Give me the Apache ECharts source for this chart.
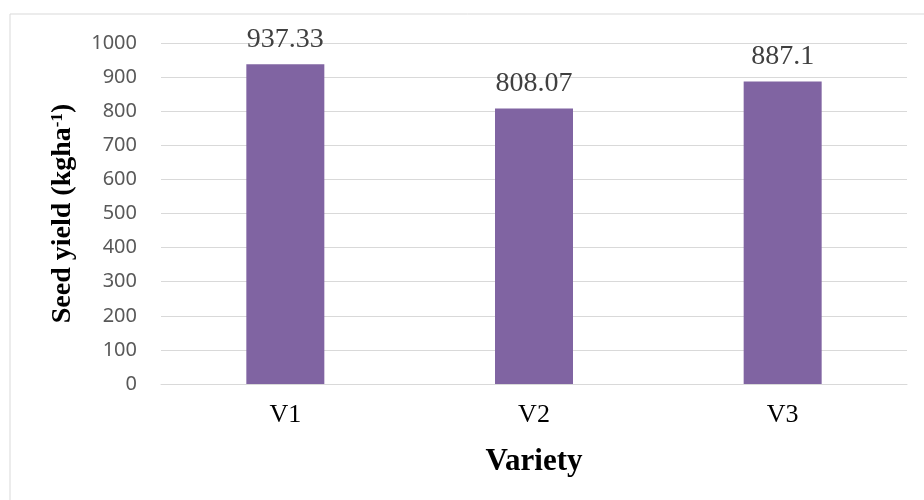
<!DOCTYPE html>
<html>
<head>
<meta charset="utf-8">
<script src="https://cdn.jsdelivr.net/npm/echarts@6/dist/echarts.min.js"></script>
<style>
  html, body { margin: 0; padding: 0; background: #fff; }
  #chart { width: 924px; height: 500px; }
</style>
</head>
<body>
<div id="chart"></div>
<script>
var varieties = ['V1', 'V2', 'V3'];
var seedYield = [937.33, 808.07, 887.1];
var yMin = 0;
var yMax = 1000;
var yStep = 100;

var chart = echarts.init(document.getElementById('chart'));

var option = {
  animation: false,
  backgroundColor: '#fff',
  graphic: [{
    type: 'rect',
    shape: { x: 10, y: 14, width: 940, height: 520 },
    style: { fill: 'none', stroke: '#d9d9d9', lineWidth: 1 },
    silent: true
  }],
  grid: {
    left: 161,
    right: 17,
    top: 43,
    bottom: 116
  },
  xAxis: {
    type: 'category',
    data: varieties,
    name: 'Variety',
    nameLocation: 'middle',
    nameGap: 62,
    nameTextStyle: {
      fontFamily: 'Liberation Serif',
      fontWeight: 'bold',
      fontSize: 31,
      color: '#000'
    },
    axisLine: { lineStyle: { color: '#d9d9d9' } },
    axisTick: { show: false },
    axisLabel: {
      margin: 18,
      fontFamily: 'Liberation Serif',
      fontSize: 26,
      color: '#000'
    }
  },
  yAxis: {
    type: 'value',
    min: yMin,
    max: yMax,
    interval: yStep,
    name: '{a|Seed yield (kgha}{b|-1}{a|)}',
    nameLocation: 'middle',
    nameGap: 84,
    nameRotate: 90,
    nameTextStyle: {
      rich: {
        a: {
          fontFamily: 'Liberation Serif',
          fontWeight: 'bold',
          fontSize: 28,
          color: '#000'
        },
        b: {
          fontFamily: 'Liberation Serif',
          fontWeight: 'bold',
          fontSize: 17,
          color: '#000',
          verticalAlign: 'top'
        }
      }
    },
    axisLine: { show: false },
    axisTick: { show: false },
    splitLine: { lineStyle: { color: '#d9d9d9', width: 1 } },
    axisLabel: {
      margin: 24,
      fontFamily: 'Noto Sans',
      fontSize: 20,
      color: '#595959',
      formatter: function (v) { return String(v); }
    }
  },
  series: [{
    type: 'bar',
    data: seedYield,
    barWidth: 78,
    itemStyle: { color: '#8064a2' },
    label: {
      show: true,
      position: 'top',
      distance: 11,
      fontFamily: 'Liberation Serif',
      fontSize: 28,
      color: '#404040'
    }
  }]
};

chart.setOption(option);
</script>
</body>
</html>
